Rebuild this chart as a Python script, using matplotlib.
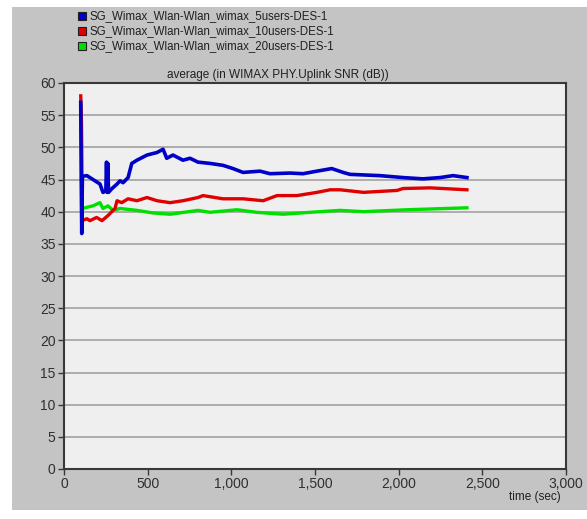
import matplotlib
matplotlib.use("Agg")
import matplotlib.pyplot as plt
from matplotlib.patches import Rectangle

# ---- data ----
series_names = [
    "SG_Wimax_Wlan-Wlan_wimax_5users-DES-1",
    "SG_Wimax_Wlan-Wlan_wimax_10users-DES-1",
    "SG_Wimax_Wlan-Wlan_wimax_20users-DES-1",
]
series_colors = ["#0000c8", "#e00000", "#00e000"]

t_blue = [100, 103, 106, 110, 137, 155, 185, 215, 233, 250, 254, 258, 262, 266, 287,
          317, 335, 353, 383, 405, 436, 496, 556, 592, 614, 651, 711, 753, 801, 873,
          950, 1010, 1070, 1171, 1231, 1351, 1428, 1512, 1600, 1668, 1709, 1888,
          2026, 2145, 2247, 2325, 2408]
v_blue = [57.0, 45.0, 36.6, 45.5, 45.6, 45.3, 44.8, 44.3, 43.0, 43.2, 47.7, 43.0, 47.5, 43.0, 43.6,
          44.3, 44.8, 44.5, 45.3, 47.5, 48.0, 48.8, 49.2, 49.7, 48.3, 48.8, 48.0, 48.3, 47.7, 47.5,
          47.2, 46.7, 46.1, 46.3, 45.9, 46.0, 45.9, 46.3, 46.7, 46.1, 45.8, 45.6,
          45.3, 45.1, 45.3, 45.6, 45.3]

t_red = [100, 104, 108, 137, 155, 195, 227, 263, 293, 305, 317, 345, 383, 436, 496,
         556, 634, 711, 801, 831, 950, 1070, 1190, 1273, 1392, 1512, 1590, 1650,
         1790, 1990, 2026, 2190, 2408]
v_red = [58.0, 54.0, 38.6, 38.9, 38.6, 39.1, 38.6, 39.4, 40.2, 40.5, 41.7, 41.4, 42.0, 41.7, 42.2,
         41.7, 41.4, 41.7, 42.2, 42.5, 42.0, 42.0, 41.7, 42.5, 42.5, 43.0, 43.4, 43.4,
         43.0, 43.3, 43.6, 43.7, 43.4]

t_green = [100, 104, 108, 173, 215, 233, 263, 293, 335, 436, 532, 634, 801, 873,
           1034, 1150, 1309, 1470, 1650, 1790, 2050, 2408]
v_green = [56.5, 54.0, 40.5, 40.9, 41.4, 40.5, 40.9, 40.2, 40.5, 40.2, 39.8, 39.6, 40.2, 39.9,
           40.3, 39.9, 39.6, 39.9, 40.2, 40.0, 40.3, 40.6]

x_ticks = [0, 500, 1000, 1500, 2000, 2500, 3000]
x_tick_labels = ["0", "500", "1,000", "1,500", "2,000", "2,500", "3,000"]
y_ticks = list(range(0, 61, 5))

title_text = "average (in WIMAX PHY.Uplink SNR (dB))"
xlabel_text = "time (sec)"

# ---- figure ----
plt.rcParams['font.family'] = ['Liberation Sans', 'DejaVu Sans']
W, H = 587, 519
fig = plt.figure(figsize=(W / 100, H / 100), dpi=100, facecolor="white")

# gray panel background
bg = Rectangle((12 / W, (H - 510) / H), (W - 12) / W, (510 - 7) / H,
               transform=fig.transFigure, facecolor="#c4c4c4",
               edgecolor="none", zorder=-10)
fig.add_artist(bg)

ax_l, ax_r, ax_t, ax_b = 64, 566, 83, 469
ax = fig.add_axes([ax_l / W, (H - ax_b) / H, (ax_r - ax_l) / W, (ax_b - ax_t) / H])
ax.set_zorder(5)
ax.set_facecolor("#efefef")

ax.plot(t_green, v_green, color=series_colors[2], lw=2.4, zorder=3)
ax.plot(t_red, v_red, color=series_colors[1], lw=2.4, zorder=4)
ax.plot(t_blue, v_blue, color=series_colors[0], lw=2.6, zorder=5)

ax.set_xlim(0, 3000)
ax.set_ylim(0, 60)
ax.set_xticks(x_ticks)
ax.set_xticklabels(x_tick_labels)
ax.set_yticks(y_ticks)
ax.yaxis.grid(True, color="#a8a8a8", lw=1.3)
ax.xaxis.grid(False)
ax.set_axisbelow(True)
for s in ax.spines.values():
    s.set_color("#383838")
    s.set_linewidth(1.5)
ax.tick_params(axis="both", direction="out", length=4, width=1, color="#383838",
               labelsize=10, labelcolor="#303030", pad=2)

fig.text(278 / W, 1 - 75 / H, title_text, ha="center", va="center", fontsize=8.5, color="#202020")
fig.text(561 / W, 1 - 497 / H, xlabel_text, ha="right", va="center", fontsize=8.5, color="#202020")

# legend
leg_y = [16, 31, 46]
for name, c, y in zip(series_names, series_colors, leg_y):
    fig.add_artist(Rectangle((78 / W, 1 - (y + 4) / H), 8 / W, 8 / H,
                             transform=fig.transFigure, facecolor=c,
                             edgecolor="#202020", lw=0.8, zorder=2))
    fig.text(89 / W, 1 - y / H, name, ha="left", va="center", fontsize=8.3, color="#202020")

fig.savefig("out.png", dpi=100, facecolor=fig.get_facecolor())
